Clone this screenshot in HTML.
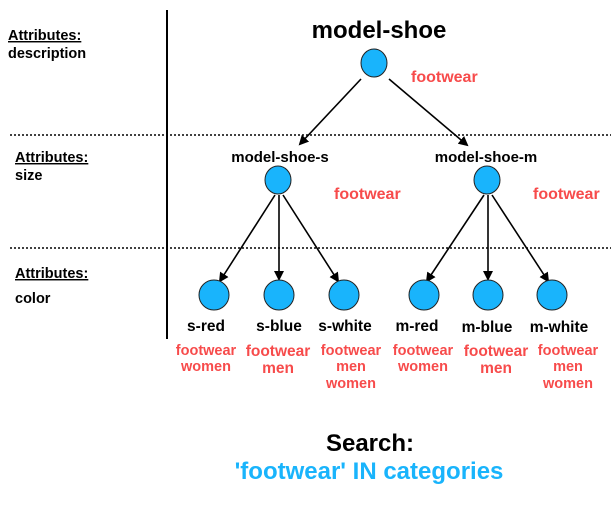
<!DOCTYPE html>
<html><head><style>
body{margin:0;background:#fff;width:611px;height:501px;overflow:hidden}
svg text{font-family:"Liberation Sans",sans-serif;font-weight:bold}
</style></head><body>
<svg width="611" height="501" viewBox="0 0 611 501" xmlns="http://www.w3.org/2000/svg">
<defs><marker id="a" markerWidth="10" markerHeight="10" refX="8" refY="5" orient="auto" markerUnits="userSpaceOnUse"><path d="M0,0 L10,5 L0,10 Z" fill="#000"/></marker></defs>
<line x1="167" y1="10" x2="167" y2="339" stroke="#000" stroke-width="2"/>
<line x1="10" y1="135" x2="611" y2="135" stroke="#000" stroke-width="1.5" stroke-dasharray="2,2"/>
<line x1="10" y1="248" x2="611" y2="248" stroke="#000" stroke-width="1.5" stroke-dasharray="2,2"/>
<g font-size="14.5" fill="#000">
<text x="8" y="40" text-decoration="underline">Attributes:</text><text x="8" y="58">description</text>
<text x="15" y="162" text-decoration="underline">Attributes:</text><text x="15" y="180">size</text>
<text x="15" y="278" text-decoration="underline">Attributes:</text><text x="15" y="303">color</text>
</g>
<text x="379" y="38" font-size="24" text-anchor="middle">model-shoe</text>
<text x="280" y="162" font-size="15" text-anchor="middle">model-shoe-s</text>
<text x="486" y="162" font-size="15" text-anchor="middle">model-shoe-m</text>
<g fill="#f74b4b" font-size="16">
<text x="411" y="82">footwear</text><text x="334" y="199">footwear</text><text x="533" y="199">footwear</text>
</g>
<g stroke="#000" stroke-width="1.6" fill="none" marker-end="url(#a)">
<line x1="361" y1="79" x2="300" y2="144"/><line x1="389" y1="79" x2="467" y2="145"/>
<line x1="275" y1="195" x2="220" y2="281"/><line x1="279" y1="195" x2="279" y2="279"/><line x1="283" y1="195" x2="338" y2="281"/>
<line x1="484" y1="195" x2="427" y2="281"/><line x1="488" y1="195" x2="488" y2="279"/><line x1="492" y1="195" x2="548" y2="281"/>
</g>
<g fill="#19b4fc" stroke="#222" stroke-width="1">
<ellipse cx="374" cy="63" rx="13" ry="14"/>
<ellipse cx="278" cy="180" rx="13" ry="14"/><ellipse cx="487" cy="180" rx="13" ry="14"/>
<circle cx="214" cy="295" r="15"/><circle cx="279" cy="295" r="15"/><circle cx="344" cy="295" r="15"/>
<circle cx="424" cy="295" r="15"/><circle cx="488" cy="295" r="15"/><circle cx="552" cy="295" r="15"/>
</g>
<g font-size="15.5" text-anchor="middle" fill="#000">
<text x="206" y="331">s-red</text><text x="279" y="331">s-blue</text><text x="345" y="331">s-white</text>
<text x="417" y="331">m-red</text><text x="487" y="332">m-blue</text><text x="559" y="332">m-white</text>
</g>
<g font-size="14.5" text-anchor="middle" fill="#f74b4b">
<text x="206" y="355">footwear</text><text x="206" y="371">women</text>
<text x="278" y="356" font-size="15.5">footwear</text><text x="278" y="373" font-size="15.5">men</text>
<text x="351" y="355">footwear</text><text x="351" y="371">men</text><text x="351" y="388">women</text>
<text x="423" y="355">footwear</text><text x="423" y="371">women</text>
<text x="496" y="356" font-size="15.5">footwear</text><text x="496" y="373" font-size="15.5">men</text>
<text x="568" y="355">footwear</text><text x="568" y="371">men</text><text x="568" y="388">women</text>
</g>
<text x="370" y="451" font-size="24" text-anchor="middle" fill="#000">Search:</text>
<text x="369" y="479" font-size="24" text-anchor="middle" fill="#19b4fc">'footwear' IN categories</text>
</svg>
</body></html>
